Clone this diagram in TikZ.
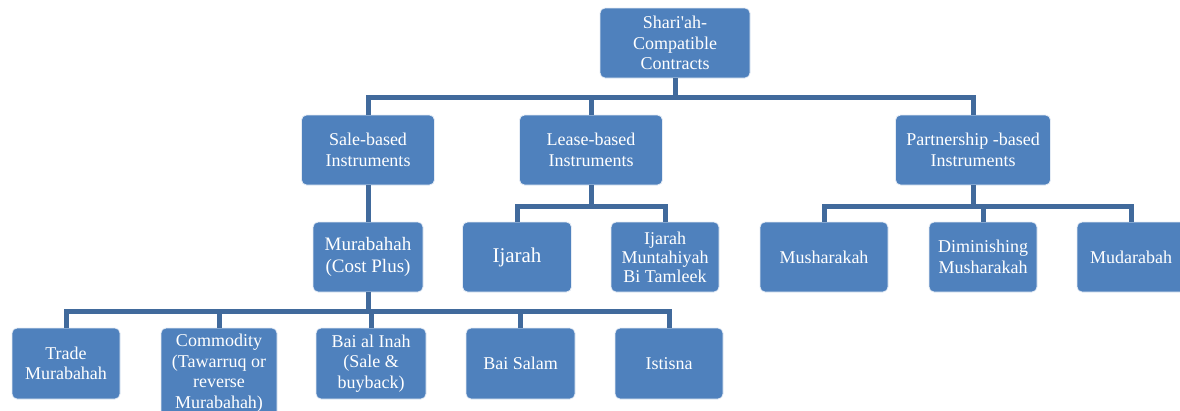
\documentclass[tikz,border=0pt]{standalone}
\usepackage{fontspec}
\setmainfont{Liberation Serif}
\definecolor{boxblue}{RGB}{79,129,189}
\definecolor{connblue}{RGB}{65,106,156}
\begin{document}
\begin{tikzpicture}[x=1pt,y=-1pt,
  box/.style={rounded corners=5pt, fill=boxblue, draw=white!85!boxblue, line width=0.8pt,
    text=white, align=center, inner sep=0pt, font=\fontsize{18}{20.5}\selectfont},
  conn/.style={draw=connblue, line width=5pt}]
\useasboundingbox (0,0) rectangle (1180,410);
\clip (0,0) rectangle (1180,410);
% level 1
\node[box, minimum width=150pt, minimum height=70pt] (top) at (675,43) {Shari\textquotesingle ah-\\Compatible\\Contracts};
% level 2
\node[box, minimum width=133pt, minimum height=70pt] (sale) at (368,150) {Sale-based\\Instruments};
\node[box, minimum width=143pt, minimum height=70pt] (lease) at (591,150) {Lease-based\\Instruments};
\node[box, minimum width=155pt, minimum height=70pt] (part) at (973,150) {Partnership -based\\Instruments};
% level 3
\node[box, minimum width=110pt, minimum height=70pt, font=\fontsize{19}{22}\selectfont] (mur) at (368,257) {Murabahah\\(Cost Plus)};
\node[box, minimum width=109pt, minimum height=70pt, font=\fontsize{21}{24}\selectfont] (ijarah) at (517,257) {Ijarah};
\node[box, minimum width=108pt, minimum height=70pt, font=\fontsize{18}{19}\selectfont] (imbt) at (665,257) {Ijarah\\Muntahiyah\\Bi Tamleek};
\node[box, minimum width=128pt, minimum height=70pt] (mush) at (824,257) {Musharakah};
\node[box, minimum width=108pt, minimum height=70pt] (dim) at (983,257) {Diminishing\\Musharakah};
\node[box, minimum width=108pt, minimum height=70pt] (mud) at (1131,257) {Mudarabah};
% level 4
\node[box, minimum width=108pt, minimum height=71pt] (trade) at (66,363.5) {Trade\\Murabahah};
\node[box, minimum width=116pt, minimum height=90pt] (comm) at (219,373) {Commodity\\(Tawarruq or\\reverse\\Murabahah)};
\node[box, minimum width=110pt, minimum height=71pt] (inah) at (371,363.5) {Bai al Inah\\(Sale \&\\buyback)};
\node[box, minimum width=109pt, minimum height=71pt] (salam) at (520.5,363.5) {Bai Salam};
\node[box, minimum width=108pt, minimum height=71pt] (ist) at (669,363.5) {Istisna};
% bus coordinates
\coordinate (b1) at (0,97);
\coordinate (b2) at (0,206);
\coordinate (b3) at (0,311);
% connectors level 1 -> 2
\draw[conn] (top.south) -- (top.south |- b1);
\draw[conn] (sale.north) -- (sale.north |- b1) -- (part.north |- b1) -- (part.north);
\draw[conn] (lease.north) -- (lease.north |- b1);
% sale -> murabahah
\draw[conn] (sale.south) -- (mur.north);
% lease -> children
\draw[conn] (lease.south) -- (lease.south |- b2);
\draw[conn] (ijarah.north) -- (ijarah.north |- b2) -- (imbt.north |- b2) -- (imbt.north);
% partnership -> children
\draw[conn] (part.south) -- (part.south |- b2);
\draw[conn] (mush.north) -- (mush.north |- b2) -- (mud.north |- b2) -- (mud.north);
\draw[conn] (dim.north) -- (dim.north |- b2);
% murabahah -> children
\draw[conn] (mur.south) -- (mur.south |- b3);
\draw[conn] (trade.north) -- (trade.north |- b3) -- (ist.north |- b3) -- (ist.north);
\draw[conn] (comm.north) -- (comm.north |- b3);
\draw[conn] (inah.north) -- (inah.north |- b3);
\draw[conn] (salam.north) -- (salam.north |- b3);
\end{tikzpicture}
\end{document}
